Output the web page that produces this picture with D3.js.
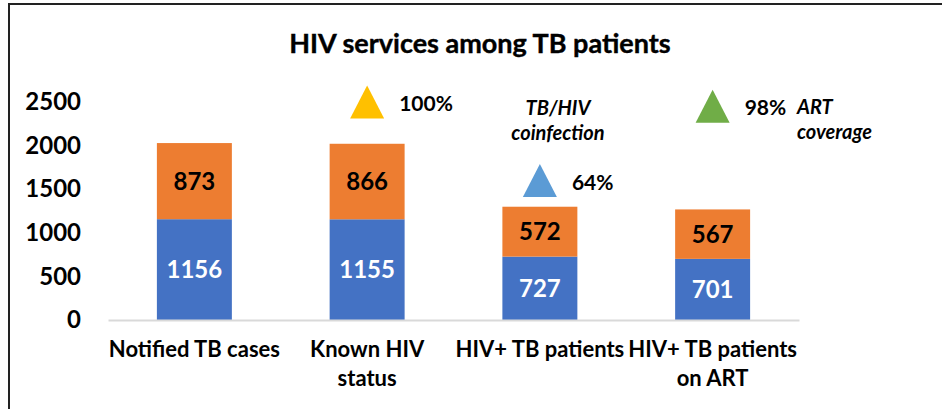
<!DOCTYPE html>
<html>
<head>
<meta charset="utf-8">
<script src="https://cdn.jsdelivr.net/npm/d3@7"></script>
<style>
  body { margin: 0; background: #fff; }
  svg { display: block; font-family: Lato, "Open Sans", sans-serif; }
</style>
</head>
<body>
<div id="chart"></div>
<script>
var categories = ["Notified TB cases", "Known HIV status", "HIV+ TB patients", "HIV+ TB patients on ART"]
var categoryLines = [["Notified TB cases"], ["Known HIV", "status"], ["HIV+ TB patients"], ["HIV+ TB patients", "on ART"]]
var lowerValues = [1156, 1155, 727, 701]
var upperValues = [873, 866, 572, 567]
var yTicks = [0, 500, 1000, 1500, 2000, 2500]

// percentage markers (secondary axis 0-100%)
var markerCats = ["Known HIV status", "HIV+ TB patients", "HIV+ TB patients on ART"]
var markerValues = [1.00, 0.64, 0.98]
var markerLabels = ["100%", "64%", "98%"]
var markerColors = ["#FFC000", "#5B9BD5", "#70AD47"]

var W = 942, H = 409
var margin = {top: 102, left: 108, right: 143, bottom: 89}
var plotW = W - margin.left - margin.right
var plotH = H - margin.top - margin.bottom

var svg = d3.select("#chart").append("svg")
    .attr("width", W)
    .attr("height", H)

// frame (cut off on the right and bottom like the source)
svg.append("rect")
    .attr("x", 9).attr("y", 4)
    .attr("width", W + 10).attr("height", H + 10)
    .attr("fill", "none")
    .attr("stroke", "#222")
    .attr("stroke-width", 2)

svg.append("text")
    .attr("x", 480).attr("y", 53)
    .attr("text-anchor", "middle")
    .attr("font-weight", "bold")
    .attr("font-size", 27)
    .attr("fill", "#000")
    .attr("stroke", "#000")
    .attr("stroke-width", 0.4)
    .text("HIV services among TB patients")

var chart = svg.append("g")
    .attr("transform", "translate(" + margin.left + "," + margin.top + ")")

var x = d3.scaleBand()
    .domain(categories)
    .range([0, plotW])
    .paddingInner(0.566)
    .paddingOuter(0.283)

var y = d3.scaleLinear()
    .domain([0, 2500])
    .range([plotH, 0])

var yPct = d3.scaleLinear()
    .domain([0, 1])
    .range([plotH, 0])

var stackData = categories.map(function(c, i) {
  return {cat: c, lower: lowerValues[i], upper: upperValues[i]}
})
var series = d3.stack().keys(["lower", "upper"])(stackData)
var fills = {lower: "#4472C4", upper: "#ED7D31"}
var labelFills = {lower: "#fff", upper: "#000"}

// y axis
var yAxis = chart.append("g")
    .call(d3.axisLeft(y).tickValues(yTicks).tickFormat(d3.format("d")).tickSize(0).tickPadding(27))
yAxis.select(".domain").remove()
yAxis.selectAll("text")
    .attr("font-family", "Lato, sans-serif")
    .attr("font-size", 24)
    .attr("font-weight", "bold")
    .attr("fill", "#000")

// bars
var layers = chart.selectAll(".layer")
    .data(series)
    .enter().append("g")
    .attr("class", "layer")
    .attr("fill", function(d) { return fills[d.key] })

layers.selectAll("rect")
    .data(function(d) { return d })
    .enter().append("rect")
    .attr("x", function(d) { return x(d.data.cat) })
    .attr("y", function(d) { return y(d[1]) })
    .attr("width", x.bandwidth())
    .attr("height", function(d) { return y(d[0]) - y(d[1]) })

series.forEach(function(s) {
  chart.selectAll(".lbl-" + s.key)
    .data(s)
    .enter().append("text")
    .attr("class", "lbl-" + s.key)
    .attr("x", function(d) { return x(d.data.cat) + x.bandwidth() / 2 })
    .attr("y", function(d) { return (y(d[0]) + y(d[1])) / 2 })
    .attr("dy", "0.36em")
    .attr("text-anchor", "middle")
    .attr("font-size", 24)
    .attr("font-weight", "bold")
    .attr("fill", labelFills[s.key])
    .text(function(d) { return d.data[s.key] })
})

// x axis
var xAxis = chart.append("g")
    .attr("transform", "translate(0," + plotH + ")")
    .call(d3.axisBottom(x).tickSize(0).tickFormat(""))
xAxis.select(".domain")
    .attr("stroke", "#d9d9d9")
    .attr("stroke-width", 2)

xAxis.selectAll(".tick text").remove()
xAxis.selectAll(".tick").each(function(d, i) {
  var t = d3.select(this).append("text")
      .attr("text-anchor", "middle")
      .attr("font-family", "Lato, sans-serif")
      .attr("font-size", 22)
      .attr("font-weight", "bold")
      .attr("fill", "#000")
      .attr("y", 37)
  categoryLines[i].forEach(function(line, j) {
    t.append("tspan").attr("x", 0).attr("dy", j == 0 ? 0 : 29).text(line)
  })
})

// triangle markers
function tri(w, h) {
  return "M0," + (-h / 2) + "L" + (w / 2) + "," + (h / 2) + "L" + (-w / 2) + "," + (h / 2) + "Z"
}
var markers = markerCats.map(function(c, i) {
  return {cat: c, value: markerValues[i], label: markerLabels[i], color: markerColors[i]}
})
chart.selectAll(".marker")
    .data(markers)
    .enter().append("path")
    .attr("class", "marker")
    .attr("d", tri(34, 33))
    .attr("fill", function(d) { return d.color })
    .attr("transform", function(d) {
      return "translate(" + (x(d.cat) + x.bandwidth() / 2) + "," + yPct(d.value) + ")"
    })
chart.selectAll(".mlabel")
    .data(markers)
    .enter().append("text")
    .attr("class", "mlabel")
    .attr("x", function(d) { return x(d.cat) + x.bandwidth() / 2 + 32 })
    .attr("y", function(d) { return yPct(d.value) + 1.5 })
    .attr("dy", "0.36em")
    .attr("font-size", 21)
    .attr("font-weight", "bold")
    .attr("fill", "#000")
    .text(function(d) { return d.label })

// italic annotations
function note(lines, px, py, anchor) {
  var t = svg.append("text")
      .attr("x", px).attr("y", py)
      .attr("text-anchor", anchor)
      .attr("font-size", 20)
      .attr("font-weight", "bold")
      .attr("font-style", "italic")
      .attr("fill", "#000")
  lines.forEach(function(line, j) {
    t.append("tspan").attr("x", px).attr("dy", j == 0 ? 0 : 25).text(line)
  })
}
note(["TB/HIV", "coinfection"], 558, 115, "middle")
note(["ART", "coverage"], 797, 114, "start")
</script>
</body>
</html>
